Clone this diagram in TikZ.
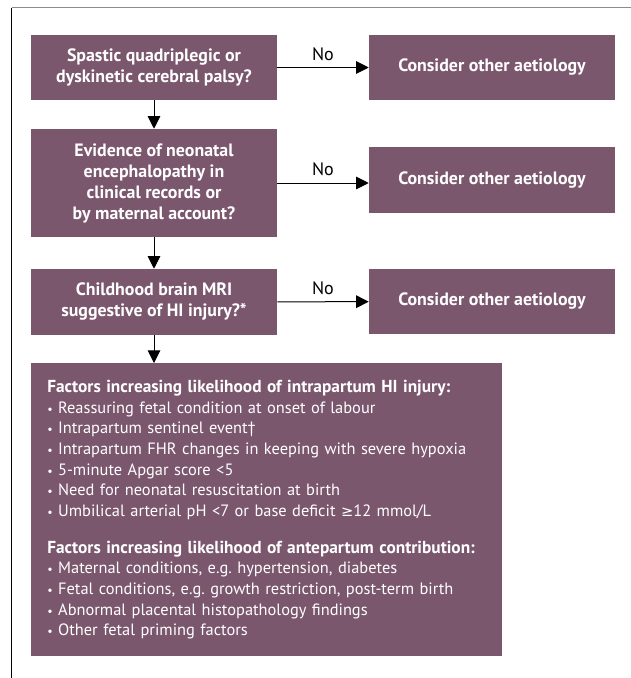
\documentclass[tikz,border=0pt]{standalone}
\usepackage{fontspec}
\setmainfont{PT Sans}
\newfontfamily\symfont{DejaVu Sans}
\usetikzlibrary{arrows.meta}
\definecolor{plum}{RGB}{123,87,110}
\definecolor{framegray}{RGB}{140,140,140}
\newcommand{\bul}{{\small\textbullet}\ }
\newcommand{\geqsym}{{\symfont\fontsize{11}{15.5}\selectfont ≥}}
\frenchspacing
\tikzset{
  qbox/.style={fill=plum, text=white, font=\bfseries\fontsize{13.4}{15.75}\selectfont,
    align=center, minimum width=184.5pt, inner sep=0pt},
  fbox/.style={fill=plum, text=white, font=\fontsize{12.3}{15.5}\selectfont,
    align=left, text width=329.25pt, inner xsep=12pt, inner ysep=0pt, minimum height=219.75pt},
  flow/.style={-{Triangle[width=9.5pt,length=9.5pt]}, line width=0.75pt},
  nolabel/.style={font=\fontsize{13.5}{14}\selectfont, above, yshift=1.5pt},
}

\begin{document}
\begin{tikzpicture}[x=0.75pt,y=-0.75pt]
\useasboundingbox (0,0) rectangle (631,678);

% frame
\draw[framegray, line width=1.2pt] (11.5,7.5) -- (631,7.5);
\draw[line width=0.8pt] (11.5,7.5) -- (11.5,678);

% questions
\node[qbox, minimum height=48.75pt] (q1) at (154,67.5) {Spastic quadriplegic or\\dyskinetic cerebral palsy?};
\node[qbox, minimum height=81pt] (q2) at (154,183) {Evidence of neonatal\\encephalopathy in\\clinical records or\\by maternal account?};
\node[qbox, minimum height=49.5pt] (q3) at (154,302) {Childhood brain MRI\\suggestive of HI injury?*};

% other aetiology
\node[qbox, minimum height=48.75pt] (o1) at (492,67.5) {Consider other aetiology};
\node[qbox, minimum height=49.5pt] (o2) at (492,180) {Consider other aetiology};
\node[qbox, minimum height=48.75pt] (o3) at (492,301.5) {Consider other aetiology};

% factors
\node[fbox, anchor=north west] (f) at (31,363) {%
{\bfseries\fontsize{13}{15.5}\selectfont Factors increasing likelihood of intrapartum HI injury:}\\
\bul Reassuring fetal condition at onset of labour\\
\bul Intrapartum sentinel event†\\
\bul Intrapartum FHR changes in keeping with severe hypoxia\\
\bul 5-minute Apgar score <5\\
\bul Need for neonatal resuscitation at birth\\
\bul Umbilical arterial pH <7 or base deficit \geqsym12 mmol/L\\[12pt]
{\bfseries\fontsize{13}{15.5}\selectfont Factors increasing likelihood of antepartum contribution:}\\
\bul Maternal conditions, e.g. hypertension, diabetes\\
\bul Fetal conditions, e.g. growth restriction, post-term birth\\
\bul Abnormal placental histopathology findings\\
\bul Other fetal priming factors};

% yes
\draw[flow] (q1) -- (q2);
\draw[flow] (q2) -- (q3);
\draw[flow] (q3) -- (q3 |- f.north);

% no
\draw[flow] (q1) -- (o1) node[nolabel, midway] {No};
\draw[flow] (q2.east) -- (q2.east -| o2.west) node[nolabel, midway] {No};
\draw[flow] (q3) -- (o3) node[nolabel, midway] {No};
\end{tikzpicture}
\end{document}
